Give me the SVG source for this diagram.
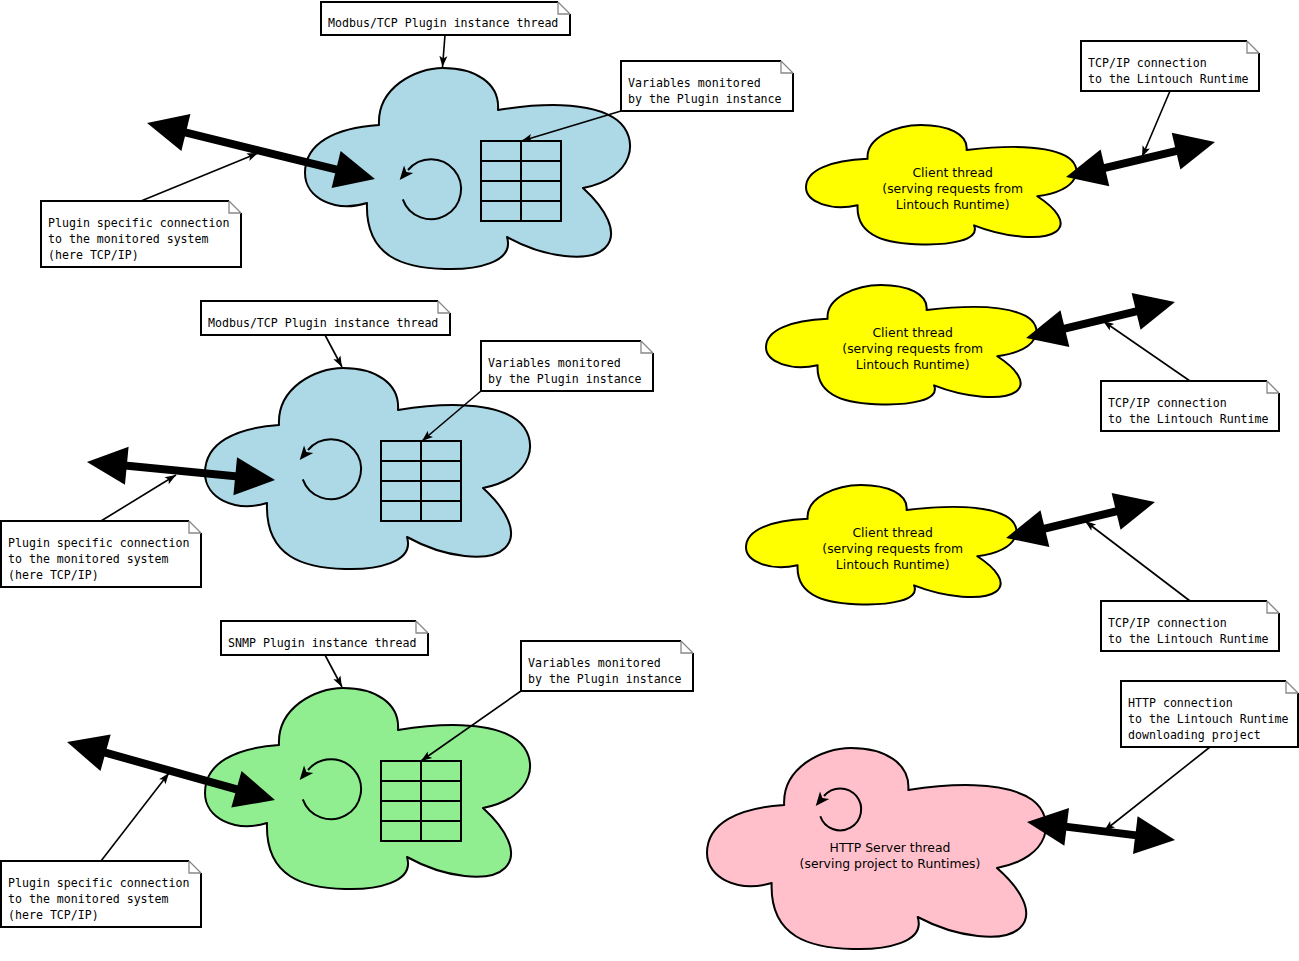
<svg xmlns="http://www.w3.org/2000/svg" xmlns:xlink="http://www.w3.org/1999/xlink" width="1299" height="961" viewBox="0 0 1299 961">
<style>
.cl{stroke:#000;stroke-width:2;stroke-linejoin:round}
.blue{fill:#add8e6}.green{fill:#90ee90}.yellow{fill:#ffff00}.pink{fill:#ffc0cb}
.tbl{fill:none;stroke:#000;stroke-width:2}
.loop{fill:none;stroke:#000;stroke-width:2}
.nb{fill:#fff;stroke:#000;stroke-width:2}
.nf{fill:none;stroke:#888;stroke-width:1.3}
.nt{font-family:"DejaVu Sans Mono","Liberation Mono",monospace;font-size:11.6px;fill:#000}
.ct{font-family:"DejaVu Sans","Liberation Sans",sans-serif;font-size:12.4px;fill:#000;text-anchor:middle}
.thin{fill:none;stroke:#000;stroke-width:1.6;marker-end:url(#sa)}
.thick{fill:none;stroke:#000;stroke-width:8;marker-start:url(#big);marker-end:url(#big)}
</style>
<defs>
<path id="cloud" vector-effect="non-scaling-stroke" d="M74,57 C72,20 110,0 138,0 C170,0 195,15 193,42 C230,36 285,32 312,52 C335,70 330,110 278,120 C300,140 315,165 300,180 C285,195 240,190 202,169 C210,195 170,202 140,201 C100,200 60,190 62,135 C30,145 0,130 0,105 C0,75 30,60 74,57 Z"/>
<marker id="sa" markerUnits="userSpaceOnUse" markerWidth="14" markerHeight="10" refX="11" refY="4" orient="auto" overflow="visible"><path d="M0,0 L11,4 L0,8 L2.5,4 z" fill="#000"/></marker>
<marker id="la" markerUnits="userSpaceOnUse" markerWidth="16" markerHeight="14" refX="1" refY="6" orient="auto" overflow="visible"><path d="M0,0 L14,6 L0,12 L3.5,6 z" fill="#000"/></marker>
<marker id="big" markerUnits="userSpaceOnUse" markerWidth="44" markerHeight="40" refX="28" refY="0" orient="auto-start-reverse" overflow="visible"><path d="M0,-19 L40,0 L0,19 z" fill="#000"/></marker>
</defs>

<g id="cloud-modbus1">
<use xlink:href="#cloud" href="#cloud" class="cl blue" transform="translate(305,68)"/>
<path class="loop" marker-end="url(#la)" d="M402.8,199.3 A30,30 0 1 0 408,170"/>
<g class="tbl"><rect x="481" y="141" width="80" height="80"/><path d="M521,141 V221 M481,161 H561 M481,181 H561 M481,201 H561"/></g>
</g>

<g id="cloud-modbus2">
<use xlink:href="#cloud" href="#cloud" class="cl blue" transform="translate(205,368)"/>
<path class="loop" marker-end="url(#la)" d="M302.8,479.3 A30,30 0 1 0 308,450"/>
<g class="tbl"><rect x="381" y="441" width="80" height="80"/><path d="M421,441 V521 M381,461 H461 M381,481 H461 M381,501 H461"/></g>
</g>

<g id="cloud-snmp">
<use xlink:href="#cloud" href="#cloud" class="cl green" transform="translate(205,688)"/>
<path class="loop" marker-end="url(#la)" d="M302.8,799.3 A30,30 0 1 0 308,770"/>
<g class="tbl"><rect x="381" y="761" width="80" height="80"/><path d="M421,761 V841 M381,781 H461 M381,801 H461 M381,821 H461"/></g>
</g>

<g id="cloud-client1">
<use xlink:href="#cloud" href="#cloud" class="cl yellow" transform="translate(806,125) scale(0.832,0.594)"/>
<text class="ct" x="952.7" y="177">Client thread</text>
<text class="ct" x="952.7" y="193">(serving requests from</text>
<text class="ct" x="952.7" y="209">Lintouch Runtime)</text>
</g>

<g id="cloud-client2">
<use xlink:href="#cloud" href="#cloud" class="cl yellow" transform="translate(766,285) scale(0.832,0.594)"/>
<text class="ct" x="912.7" y="337">Client thread</text>
<text class="ct" x="912.7" y="353">(serving requests from</text>
<text class="ct" x="912.7" y="369">Lintouch Runtime)</text>
</g>

<g id="cloud-client3">
<use xlink:href="#cloud" href="#cloud" class="cl yellow" transform="translate(746,485) scale(0.832,0.594)"/>
<text class="ct" x="892.7" y="537">Client thread</text>
<text class="ct" x="892.7" y="553">(serving requests from</text>
<text class="ct" x="892.7" y="569">Lintouch Runtime)</text>
</g>

<g id="cloud-http">
<use xlink:href="#cloud" href="#cloud" class="cl pink" transform="translate(707,748) scale(1.043,1)"/>
<path class="loop" marker-end="url(#la)" d="M820.3,816.2 A21,21 0 1 0 824,796"/>
<text class="ct" x="890" y="852">HTTP Server thread</text>
<text class="ct" x="890" y="868">(serving project to Runtimes)</text>
</g>

<g id="note-thread1">
<path class="nb" d="M558,2 H321 V35 H570 V14"/><path class="nf" d="M558,2 L570,14 M558,2 V14 H570"/>
<text class="nt" x="328" y="27">Modbus/TCP Plugin instance thread</text>
</g>
<g id="note-vars1">
<path class="nb" d="M781,61 H621 V111 H793 V73"/><path class="nf" d="M781,61 L793,73 M781,61 V73 H793"/>
<text class="nt" x="628" y="87">Variables monitored</text>
<text class="nt" x="628" y="103">by the Plugin instance</text>
</g>
<g id="note-conn1">
<path class="nb" d="M229,201 H41 V267 H241 V213"/><path class="nf" d="M229,201 L241,213 M229,201 V213 H241"/>
<text class="nt" x="48" y="227">Plugin specific connection</text>
<text class="nt" x="48" y="243">to the monitored system</text>
<text class="nt" x="48" y="259">(here TCP/IP)</text>
</g>
<g id="note-tcp1">
<path class="nb" d="M1247,41 H1081 V91 H1259 V53"/><path class="nf" d="M1247,41 L1259,53 M1247,41 V53 H1259"/>
<text class="nt" x="1088" y="67">TCP/IP connection</text>
<text class="nt" x="1088" y="83">to the Lintouch Runtime</text>
</g>
<g id="note-thread2">
<path class="nb" d="M438,301 H201 V335 H450 V313"/><path class="nf" d="M438,301 L450,313 M438,301 V313 H450"/>
<text class="nt" x="208" y="327">Modbus/TCP Plugin instance thread</text>
</g>
<g id="note-vars2">
<path class="nb" d="M641,341 H481 V391 H653 V353"/><path class="nf" d="M641,341 L653,353 M641,341 V353 H653"/>
<text class="nt" x="488" y="367">Variables monitored</text>
<text class="nt" x="488" y="383">by the Plugin instance</text>
</g>
<g id="note-conn2">
<path class="nb" d="M189,521 H1 V587 H201 V533"/><path class="nf" d="M189,521 L201,533 M189,521 V533 H201"/>
<text class="nt" x="8" y="547">Plugin specific connection</text>
<text class="nt" x="8" y="563">to the monitored system</text>
<text class="nt" x="8" y="579">(here TCP/IP)</text>
</g>
<g id="note-tcp2">
<path class="nb" d="M1267,381 H1101 V431 H1279 V393"/><path class="nf" d="M1267,381 L1279,393 M1267,381 V393 H1279"/>
<text class="nt" x="1108" y="407">TCP/IP connection</text>
<text class="nt" x="1108" y="423">to the Lintouch Runtime</text>
</g>
<g id="note-tcp3">
<path class="nb" d="M1267,601 H1101 V651 H1279 V613"/><path class="nf" d="M1267,601 L1279,613 M1267,601 V613 H1279"/>
<text class="nt" x="1108" y="627">TCP/IP connection</text>
<text class="nt" x="1108" y="643">to the Lintouch Runtime</text>
</g>
<g id="note-thread3">
<path class="nb" d="M416,621 H221 V655 H428 V633"/><path class="nf" d="M416,621 L428,633 M416,621 V633 H428"/>
<text class="nt" x="228" y="647">SNMP Plugin instance thread</text>
</g>
<g id="note-vars3">
<path class="nb" d="M681,641 H521 V691 H693 V653"/><path class="nf" d="M681,641 L693,653 M681,641 V653 H693"/>
<text class="nt" x="528" y="667">Variables monitored</text>
<text class="nt" x="528" y="683">by the Plugin instance</text>
</g>
<g id="note-conn3">
<path class="nb" d="M189,861 H1 V927 H201 V873"/><path class="nf" d="M189,861 L201,873 M189,861 V873 H201"/>
<text class="nt" x="8" y="887">Plugin specific connection</text>
<text class="nt" x="8" y="903">to the monitored system</text>
<text class="nt" x="8" y="919">(here TCP/IP)</text>
</g>
<g id="note-http">
<path class="nb" d="M1286,681 H1121 V747 H1298 V693"/><path class="nf" d="M1286,681 L1298,693 M1286,681 V693 H1298"/>
<text class="nt" x="1128" y="707">HTTP connection</text>
<text class="nt" x="1128" y="723">to the Lintouch Runtime</text>
<text class="nt" x="1128" y="739">downloading project</text>
</g>

<g id="connectors">
<path class="thick" d="M158.7,125.9 L363.3,176.1"/>
<path class="thick" d="M98.9,463.1 L263.1,478.9"/>
<path class="thick" d="M78.6,745.2 L263.4,796.8"/>
<path class="thick" d="M1077.7,174.3 L1203.3,144.7"/>
<path class="thick" d="M1037.7,335.2 L1163.3,304.8"/>
<path class="thick" d="M1017.7,535.2 L1143.3,504.8"/>
<path class="thick" d="M1038.9,823.4 L1163.1,838.6"/>
<path class="thin" d="M445,35 L442.5,67"/>
<path class="thin" d="M621,111 L521.5,141"/>
<path class="thin" d="M141,201 L258,153"/>
<path class="thin" d="M1170,91 L1142,157"/>
<path class="thin" d="M325,335 L342,367"/>
<path class="thin" d="M481,391 L422,441"/>
<path class="thin" d="M101,521 L176,475"/>
<path class="thin" d="M1190,381 L1103,321"/>
<path class="thin" d="M1190,601 L1085,521"/>
<path class="thin" d="M325,655 L342,687"/>
<path class="thin" d="M521,691 L421,761"/>
<path class="thin" d="M101,861 L169,773"/>
<path class="thin" d="M1210,747 L1104,831"/>
</g>
</svg>
